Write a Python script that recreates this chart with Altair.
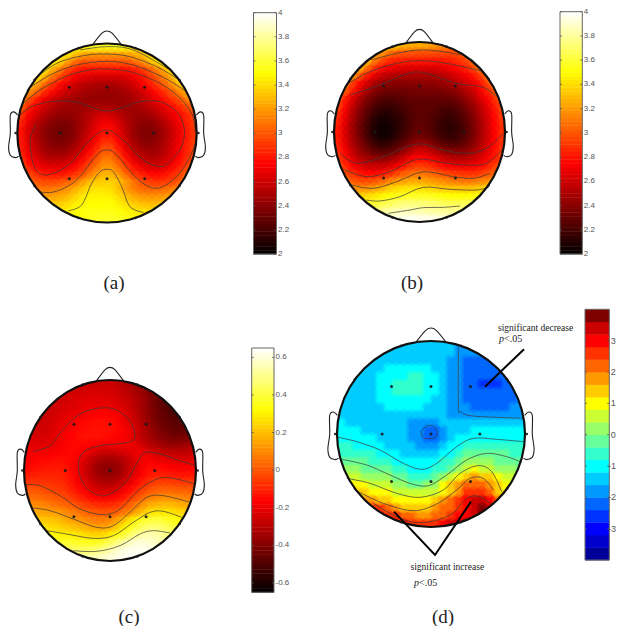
import altair as alt
import pandas as pd

# ---------- values (grid of 24 rows, centred in each head) ----------
A_ROWS = [
[345,350,355,355,355,355,355,350,345,340],
[355,345,335,325,320,320,320,320,320,320,325,330,340,350],
[350,340,325,310,300,300,300,300,300,300,300,305,315,325,340,350],
[345,330,315,300,288,282,280,280,280,280,280,280,283,290,300,312,325,340],
[345,330,312,298,285,275,268,265,262,262,262,262,265,270,278,288,300,312,325,340],
[340,325,308,292,280,270,262,257,253,252,250,250,252,256,262,270,280,290,302,315,328,340],
[320,305,290,278,268,260,255,250,248,246,245,245,246,249,254,260,268,278,288,300,312,325],
[320,300,285,272,263,256,250,247,245,244,244,244,244,244,246,250,255,262,270,278,288,298,310,322],
[305,285,272,262,255,250,247,246,246,248,250,250,249,247,246,247,250,255,260,268,276,285,295,305],
[292,275,263,254,248,244,243,244,248,252,258,262,260,255,250,246,245,248,253,260,268,276,285,295],
[285,268,257,248,242,238,238,241,248,255,264,270,270,262,254,247,242,242,246,253,262,272,282,292],
[280,264,252,243,237,234,235,240,248,258,268,278,278,268,256,246,240,238,241,248,258,268,280,290],
[280,264,252,243,237,235,236,241,250,260,272,282,282,272,258,247,240,238,241,248,258,268,280,290],
[282,267,255,246,240,238,240,246,255,266,278,292,292,278,264,252,245,241,244,250,260,270,282,292],
[285,270,260,250,246,245,247,253,262,274,288,301,301,288,272,258,250,247,248,253,262,272,283,293],
[290,276,266,258,254,254,256,262,272,285,298,310,310,298,282,268,258,254,254,258,266,276,287,298],
[298,284,274,268,266,266,268,274,284,296,308,318,318,308,294,280,270,264,263,266,272,282,292,303],
[310,296,288,282,280,280,282,288,296,308,320,328,328,320,306,292,284,278,276,278,284,292,302,312],
[306,300,296,296,297,302,308,318,328,334,336,336,332,322,310,300,293,290,290,294,300,308],
[314,310,309,310,312,316,324,332,340,342,342,340,332,320,312,306,304,304,306,310,314,318],
[322,321,322,324,328,335,342,346,347,347,346,340,332,325,320,318,318,320,322,325],
[332,333,335,338,344,348,350,350,350,350,346,340,335,332,330,330,331,333],
[342,343,346,350,352,354,354,354,354,352,348,345,342,341,340,342],
[350,352,355,357,358,358,357,355,352,350],
]
B_ROWS = [
[340,335,328,325,325,325,322,318,315,310],
[335,322,310,303,300,300,298,298,298,297,296,295,298,305],
[335,315,300,290,285,284,283,283,282,282,281,282,285,290,295,305],
[330,310,292,280,272,268,266,265,265,264,264,265,268,272,278,285,295,310],
[325,302,285,270,260,255,252,251,250,250,250,250,252,255,260,266,272,280,292,310],
[315,295,278,263,252,245,242,240,240,240,241,242,242,243,245,250,255,262,270,280,295,312],
[305,285,268,252,242,236,233,232,233,234,235,235,236,236,237,240,245,252,260,272,285,302],
[305,285,268,252,240,232,226,224,225,227,229,230,230,230,230,230,232,236,244,252,264,276,290,305],
[298,278,260,245,234,225,219,217,219,222,225,228,228,228,226,224,224,228,236,245,256,268,282,298],
[290,272,254,240,228,218,212,211,214,218,223,227,228,226,222,219,219,223,231,240,252,264,278,293],
[285,268,250,236,224,213,207,207,211,216,222,227,228,225,220,216,215,219,227,237,248,262,276,290],
[282,265,248,234,222,210,205,205,210,216,223,229,229,225,219,215,213,217,225,235,247,260,274,288],
[282,265,249,236,223,212,206,206,212,219,226,232,232,228,222,217,215,219,226,236,248,261,275,288],
[284,268,252,240,229,219,213,214,220,227,235,243,245,240,232,226,223,225,231,240,250,262,276,288],
[288,273,258,246,237,229,225,226,232,240,250,260,261,256,248,241,238,238,241,248,256,266,278,290],
[294,280,266,255,248,243,241,243,249,258,268,276,276,272,265,258,253,252,253,258,264,272,282,293],
[302,288,276,267,261,258,258,261,268,277,287,292,292,288,282,276,272,270,270,272,277,283,292,302],
[312,298,289,281,277,276,278,283,291,299,305,308,308,305,300,296,292,290,288,288,291,297,304,312],
[310,301,297,296,298,303,310,316,320,323,324,323,320,317,314,311,309,308,309,312,316,320],
[325,318,316,317,320,326,332,338,341,342,342,340,338,335,333,332,331,331,332,335,337,340],
[336,336,338,342,346,350,354,356,357,357,357,356,354,352,350,349,349,350,352,355],
[355,357,359,362,366,370,373,374,374,373,371,369,367,366,366,367,368,370],
[372,374,378,381,384,385,385,384,383,381,380,379,378,377,377,378],
[392,394,396,397,397,396,395,394,392,390],
]
C_ROWS = [
[-27,-27,-27,-26,-26,-26,-29,-31,-34,-37],
[-26,-25,-25,-24,-24,-24,-24,-25,-27,-30,-33,-36,-40,-44],
[-27,-25,-24,-23,-22,-22,-22,-22,-23,-25,-27,-30,-34,-39,-44,-47],
[-27,-25,-24,-23,-22,-21,-20,-20,-20,-21,-23,-26,-30,-34,-39,-44,-47,-50],
[-27,-26,-24,-23,-21,-20,-19,-17,-16,-16,-17,-19,-23,-28,-33,-38,-43,-46,-49,-50],
[-27,-26,-25,-23,-21,-19,-17,-15,-14,-14,-14,-15,-18,-22,-26,-32,-37,-42,-45,-47,-48,-47],
[-25,-25,-24,-22,-19,-17,-15,-14,-13,-13,-13,-14,-16,-19,-24,-30,-35,-39,-43,-45,-46,-45],
[-23,-24,-24,-23,-21,-18,-16,-14,-13,-13,-13,-14,-15,-17,-19,-24,-29,-33,-37,-40,-42,-43,-42,-40],
[-21,-22,-22,-22,-20,-17,-15,-15,-15,-16,-17,-18,-18,-18,-19,-21,-26,-30,-33,-36,-37,-37,-36,-34],
[-19,-19,-19,-18,-17,-16,-15,-16,-19,-22,-25,-26,-26,-24,-22,-20,-20,-23,-26,-28,-29,-29,-29,-27],
[-17,-16,-15,-15,-14,-14,-15,-18,-23,-28,-32,-33,-33,-31,-27,-22,-18,-18,-20,-21,-22,-23,-24,-23],
[-15,-14,-13,-12,-12,-12,-15,-19,-25,-31,-36,-38,-37,-34,-29,-23,-18,-15,-15,-16,-17,-18,-18,-18],
[-12,-11,-10,-10,-10,-11,-14,-19,-25,-31,-35,-37,-36,-33,-27,-21,-16,-12,-11,-11,-12,-13,-13,-13],
[-7,-7,-7,-7,-8,-9,-12,-17,-22,-27,-31,-32,-31,-28,-23,-17,-11,-7,-5,-5,-5,-6,-6,-6],
[0,0,-2,-3,-5,-6,-10,-14,-18,-22,-25,-26,-25,-21,-16,-11,-5,-1,1,2,2,1,1,0],
[5,4,3,1,0,-2,-5,-9,-12,-16,-18,-18,-17,-14,-9,-3,2,7,9,10,10,9,8,7],
[11,10,9,7,5,3,1,-2,-5,-7,-9,-9,-8,-5,0,6,11,16,18,19,19,17,16,14],
[17,16,15,14,13,11,8,6,3,1,0,-1,0,3,8,14,20,26,28,28,27,25,24,22],
[22,22,21,20,17,14,12,10,8,7,8,11,17,24,31,37,39,40,38,36,33,30],
[28,27,26,25,23,21,19,17,15,14,15,19,26,33,40,44,47,47,45,42,38,35],
[33,32,31,30,29,28,26,24,24,26,31,37,43,49,53,55,54,51,47,42],
[38,38,38,38,37,36,36,37,41,46,51,56,59,60,59,57,54,50],
[44,45,45,45,45,46,48,52,56,60,62,63,63,62,60,57],
[53,54,55,57,59,61,63,64,64,63],
]
D_ROWS = [
[-16,-16,-16,-16,-16,-16,-16,-16,-17,-18],
[-15,-15,-15,-15,-15,-15,-15,-15,-15,-16,-17,-18,-20,-20],
[-15,-15,-14,-13,-13,-13,-13,-13,-14,-15,-17,-18,-21,-21,-21,-21],
[-15,-15,-13,-12,-12,-11,-11,-12,-12,-13,-14,-17,-18,-21,-22,-22,-22,-22],
[-16,-15,-14,-12,-11,-11,-9,-8,-8,-9,-11,-13,-17,-18,-21,-23,-24,-24,-24,-23],
[-16,-16,-15,-13,-12,-10,-7,-5,-5,-6,-10,-12,-14,-17,-18,-21,-23,-25,-25,-25,-24,-22],
[-16,-16,-15,-13,-12,-10,-8,-7,-7,-8,-10,-12,-15,-17,-18,-21,-23,-24,-24,-24,-23,-21],
[-16,-16,-16,-15,-14,-12,-11,-10,-10,-10,-10,-11,-13,-16,-17,-19,-21,-22,-22,-22,-22,-22,-21,-20],
[-16,-16,-16,-16,-15,-14,-12,-12,-12,-12,-12,-13,-14,-16,-17,-19,-20,-21,-21,-21,-21,-21,-20,-20],
[-14,-15,-16,-16,-16,-16,-16,-16,-16,-16,-16,-16,-16,-16,-17,-18,-19,-19,-19,-19,-19,-19,-19,-19],
[-12,-13,-13,-14,-15,-15,-16,-16,-16,-17,-18,-19,-18,-16,-15,-15,-14,-14,-14,-14,-14,-14,-14,-14],
[-11,-11,-12,-13,-13,-14,-14,-15,-16,-17,-19,-22,-21,-18,-15,-13,-13,-12,-12,-12,-12,-12,-12,-12],
[-10,-11,-11,-12,-12,-13,-14,-15,-16,-17,-19,-22,-21,-18,-15,-12,-11,-10,-10,-10,-10,-10,-10,-10],
[-8,-8,-9,-9,-10,-11,-13,-14,-15,-16,-17,-18,-17,-15,-12,-10,-8,-7,-7,-7,-7,-8,-8,-8],
[-5,-5,-6,-7,-8,-9,-10,-12,-13,-14,-15,-15,-14,-12,-9,-7,-4,-3,-3,-3,-4,-4,-5,-6],
[-3,-3,-3,-4,-5,-6,-7,-9,-10,-12,-12,-12,-11,-8,-5,-2,0,1,1,0,-1,-2,-3,-4],
[1,0,0,-1,-2,-3,-4,-5,-7,-9,-9,-9,-8,-5,-2,2,6,8,7,5,3,1,0,-1],
[6,5,4,3,2,1,0,-1,-3,-5,-5,-5,-3,0,4,10,14,16,15,12,9,7,4,2],
[10,9,8,7,6,4,2,0,-1,-1,0,3,8,14,18,22,23,21,17,13,9,5],
[14,13,12,10,9,8,7,5,4,4,5,7,10,15,19,24,26,24,20,14,10,7],
[16,18,19,15,12,10,9,8,8,10,13,16,20,24,29,33,34,28,20,15],
[26,26,24,20,17,15,14,14,15,17,20,23,26,30,35,37,33,27],
[28,27,26,24,22,20,19,19,21,23,25,28,31,34,36,35],
[30,28,26,25,24,26,29,32,34,36],
]

# contour lines, traced on the picture (x, y in 3x crop pixels)
A_LINES = [
[(240,150),(320,140),(400,150),(505,207)],
[(100,240),(170,190),(250,167),(320,162),(390,170),(470,200),(535,238)],
[(80,270),(150,225),(230,195),(320,184),(400,195),(490,232),(555,272)],
[(68,312),(120,270),(200,228),(270,210),(320,207),(390,215),(470,245),(530,285),(575,340),(585,395)],
[(55,350),(90,322),(150,305),(220,305),(270,320),(320,333),(370,322),(420,305),(480,305),(530,335),(553,385),(545,440),(510,485),(480,500),(430,480),(375,425),(320,390),(265,425),(205,495),(140,525),(105,505),(92,450),(92,410),(110,370)],
[(115,575),(165,575),(230,540),(290,465),(320,450),(350,465),(410,535),(470,565),(530,530),(570,470),(585,430)],
[(205,632),(245,615),(275,550),(300,515),(320,508),(340,515),(365,560),(390,620),(430,637)],
]
B_LINES = [
[(185,180),(260,160),(330,150),(400,155),(450,165)],
[(115,250),(180,215),(260,190),(330,182),(410,190),(510,212)],
[(120,285),(210,255),(290,222),(340,218),(440,250),(520,262),(558,290)],
[(90,460),(140,490),(220,470),(290,440),(340,432),(400,450),(470,460),(530,445),(580,400)],
[(105,510),(170,530),(240,515),(300,485),(340,477),(400,488),(470,495),(530,490),(582,445)],
[(125,555),(190,565),(260,545),(320,520),(360,516),(430,530),(490,535),(540,520)],
[(170,600),(210,603),(270,590),(340,562),(420,568),(500,570),(538,560)],
[(235,640),(300,630),(340,623),(400,622),(450,618)],
]
C_LINES = [
[(100,352),(150,335),(190,285),(240,240),(300,222),(350,228),(390,262),(405,305),(385,325),(300,335),(250,355),(235,395),(250,450),(290,482),(330,480),(380,440),(415,380),(435,355),(480,360),(540,380),(587,395)],
[(75,452),(120,455),(180,485),(240,525),(310,542),(360,525),(420,465),(480,432),(530,435),(585,450)],
[(100,522),(150,530),(220,555),(290,580),(340,575),(395,530),(440,490),(490,485),(570,505)],
[(140,590),(200,600),(280,613),(340,605),(400,565),(450,535),(490,532),(545,550)],
[(220,650),(290,652),(360,635),(420,600),(460,590),(510,597)],
]
D_LINES = [
[(445,142),(445,320),(452,335),(480,347),(560,352),(640,355)],
[(333,395),(350,378),(370,378),(382,395),(378,410),(365,415),(345,415),(335,405),(333,395)],
[(85,412),(140,425),(210,450),(280,490),(335,508),(380,490),(440,440),(490,415),(560,418),(640,425)],
[(95,478),(170,495),(240,525),(300,550),(355,557),(410,525),(470,480),(530,460),(590,470),(635,487)],
[(110,535),(180,550),(260,580),(330,592),(400,570),(450,520),(505,497),(545,515),(575,575)],
[(135,570),(220,610),(310,632),(380,612),(440,570),(480,535),(520,535),(550,570)],
[(190,610),(270,655),(340,668),(420,645),(470,595),(510,590),(545,615)],
]

HOT_TICKS = [4, 3.8, 3.6, 3.4, 3.2, 3, 2.8, 2.6, 2.4, 2.2, 2]
HOT_LABELS = ["4", "3.8", "3.6", "3.4", "3.2", "3", "2.8", "2.6", "2.4", "2.2", "2"]
C_TICKS = [0.6, 0.4, 0.2, 0, -0.2, -0.4, -0.6]
C_LABELS = ["0.6", "0.4", "0.2", "0", "-0.2", "-0.4", "-0.6"]
D_TICKS = [3, 2, 1, 0, -1, -2, -3]
D_LABELS = ["3", "2", "1", "0", "-1", "-2", "-3"]
D_BANDS = ["#000099", "#0000cc", "#0000ff", "#0033ff", "#0066ff", "#0099ff", "#00ccff", "#00ffff",
           "#33ffcc", "#66ff99", "#99ff66", "#ccff33", "#ffff00", "#ffcc00", "#ff9900", "#ff6600",
           "#ff3300", "#ff0000", "#cc0000", "#800000"]

# head shape in head-radius units
UNIT_X = [1, .966, .866, .707, .5, .259, 0, -.259, -.5, -.707, -.866, -.966,
          -1, -.966, -.866, -.707, -.5, -.259, 0, .259, .5, .707, .866, .966]
UNIT_Y = [0, .259, .5, .707, .866, .966, 1, .966, .866, .707, .5, .259,
          0, -.259, -.5, -.707, -.866, -.966, -1, -.966, -.866, -.707, -.5, -.259]
NOSE_X = [-.156, -.056, 0, .056, .156]
NOSE_Y = [-.993, -1.115, -1.14, -1.115, -.993]
EAR_X = [.996, 1.04, 1.078, 1.078, 1.097, 1.078, 1.022, .985]
EAR_Y = [-.2, -.236, -.197, .007, .156, .249, .275, .26]
ELEC_X = [-.42, 0, .42, -.52, 0, .52, -.42, 0, .42]
ELEC_Y = [-.51, -.51, -.51, 0, 0, 0, .51, .51, .51]
RIM_X = [-.317, .317, -.81, .81, -1.02, 1.02, -.81, .81, -.317, .317]
RIM_Y = [-.95, -.95, -.59, -.59, 0, 0, .59, .59, .95, .95]

X = alt.Scale(domain=[8, 616], range=[0, 608], nice=False, zero=False)
Y = alt.Scale(domain=[626, 8], nice=False, zero=False)
HOT = ["#000000", "#ff0000", "#ffff00", "#ffffff"]


def ex(f="x"):
    return alt.X(f + ":Q", scale=X, axis=None, title=None)


def ey(f="y"):
    return alt.Y(f + ":Q", scale=Y, axis=None, title=None)


def color(scale):
    return alt.Color("v:Q", scale=scale, legend=None)


def heat(rows, cx, cy, rx, ry, scale, soft):
    out = []
    for j, row in enumerate(rows):
        first = (24 - len(row)) // 2
        for k, v in enumerate(row):
            i = first + k
            out.append({"x": cx + (i - 12) * rx / 12, "x2": cx + (i - 11) * rx / 12 + 0.5,
                        "y": cy + (j - 12) * ry / 12, "y2": cy + (j - 11) * ry / 12 + 0.5,
                        "cxp": cx + (i - 11.5) * rx / 12, "cyp": cy + (j - 11.5) * ry / 12, "v": v})
    df = pd.DataFrame(out)
    cell = rx / 12
    parts = [alt.Chart(df).mark_rect(strokeWidth=0).encode(
        x=ex(), x2="x2:Q", y=ey(), y2="y2:Q", color=color(scale))]
    # the same cells once more, as soft round patches, in both drawing orders
    for frame, (diam, alpha) in zip((df, df.iloc[::-1]), soft):
        parts.append(alt.Chart(frame).mark_circle(size=(diam * cell) ** 2, opacity=alpha, strokeWidth=0).encode(
            x=ex("cxp"), y=ey("cyp"), color=color(scale)))
    return parts


def ring(cx, cy, rx, ry, col, width):
    df = pd.DataFrame({"x": [cx + rx * u for u in UNIT_X], "y": [cy + ry * u for u in UNIT_Y],
                       "o": range(len(UNIT_X))})
    return alt.Chart(df).mark_line(interpolate="cardinal-closed", color=col, strokeWidth=width).encode(
        x=ex(), y=ey(), order="o:Q")


def path(xs, ys):
    df = pd.DataFrame({"x": xs, "y": ys, "o": range(len(xs))})
    return alt.Chart(df).mark_line(interpolate="cardinal", color="#222222", strokeWidth=1.1).encode(
        x=ex(), y=ey(), order="o:Q")


def contours(lines, ox, oy):
    out = []
    for n, line in enumerate(lines):
        for o, (a, b) in enumerate(line):
            out.append({"x": ox + a / 3, "y": oy + b / 3, "o": o, "n": n})
    return alt.Chart(pd.DataFrame(out)).mark_line(
        interpolate="cardinal", color="#3a3a3a", strokeWidth=0.9, opacity=0.8).encode(
        x=ex(), y=ey(), order="o:Q", detail="n:N")


def dots(xs, ys, cx, cy, rx, ry, size):
    df = pd.DataFrame({"x": [cx + rx * u for u in xs], "y": [cy + ry * u for u in ys]})
    return alt.Chart(df).mark_point(filled=True, color="#1a1a1a", size=size, opacity=0.9).encode(x=ex(), y=ey())


def head(rows, lines, ox, oy, cx, cy, rx, ry, scale, soft):
    return heat(rows, cx, cy, rx, ry, scale, soft) + [
        ring(cx, cy, rx + 9, ry + 9, "#ffffff", 17),
        contours(lines, ox, oy),
        ring(cx, cy, rx, ry, "#111111", 2.2),
        path([cx + rx * u for u in NOSE_X], [cy + ry * u for u in NOSE_Y]),
        path([cx + rx * u for u in EAR_X], [cy + ry * u for u in EAR_Y]),
        path([cx - rx * u for u in EAR_X], [cy + ry * u for u in EAR_Y]),
        dots(ELEC_X, ELEC_Y, cx, cy, rx, ry, 9),
        dots(RIM_X, RIM_Y, cx, cy, rx, ry, 6),
    ]


def colorbar(x0, x1, top, bot, vmin, vmax, values, vstep, scale, ticks, labels, fs, minus_dx=0.0):
    def to_y(v):
        return bot - (v - vmin) / (vmax - vmin) * (bot - top)
    df = pd.DataFrame([{"x": x0, "x2": x1, "y": to_y(v + vstep[1]), "y2": to_y(v - vstep[1]) + 0.4,
                        "v": v * vstep[0]} for v in values])
    bar = alt.Chart(df).mark_rect(strokeWidth=0).encode(x=ex(), x2="x2:Q", y=ey(), y2="y2:Q", color=color(scale))
    frame = alt.Chart(pd.DataFrame([{"x": x0, "x2": x1, "y": top, "y2": bot}])).mark_rect(
        fillOpacity=0, stroke="#666666", strokeWidth=1).encode(x=ex(), x2="x2:Q", y=ey(), y2="y2:Q")
    tk = pd.DataFrame([{"y": to_y(t), "a": x0, "b": x0 + 2, "c": x1 - 2, "d": x1} for t in ticks])
    left = alt.Chart(tk).mark_rule(color="#555555", strokeWidth=0.8).encode(x=ex("a"), x2="b:Q", y=ey())
    right = alt.Chart(tk).mark_rule(color="#555555", strokeWidth=0.8).encode(x=ex("c"), x2="d:Q", y=ey())
    tx = pd.DataFrame({"x": [x1 + 1.5 - (minus_dx if t < 0 else 0) for t in ticks],
                       "y": [to_y(t) for t in ticks], "t": labels})
    text = alt.Chart(tx).mark_text(align="left", baseline="middle", font="Liberation Sans", fontSize=fs,
                                   color="#555555").encode(x=ex(), y=ey(), text="t:N")
    return [bar, frame, left, right, text]


def label(t, x, y, size, style="normal", align="left"):
    df = pd.DataFrame({"x": [x], "y": [y], "t": [t]})
    return alt.Chart(df).mark_text(align=align, baseline="middle", font="Liberation Serif", fontSize=size,
                                   fontStyle=style, color="#222222").encode(x=ex(), y=ey(), text="t:N")


def pointer(xs, ys):
    df = pd.DataFrame({"x": [310 + a / 3 for a in xs], "y": [300 + b / 3 for b in ys], "o": range(len(xs))})
    return alt.Chart(df).mark_line(color="#000000", strokeWidth=2).encode(x=ex(), y=ey(), order="o:Q")


S_AB = alt.Scale(domain=[200, 275, 350, 400], range=HOT, interpolate="rgb", nice=False, zero=False)
S_C = alt.Scale(domain=[-65, -16.25, 32.5, 65], range=HOT, interpolate="rgb", nice=False, zero=False)
S_D = alt.Scale(type="quantize", domain=[-40, 40], range=D_BANDS, nice=False, zero=False)

HOT_LEVELS = [(i + 0.5) / 64 for i in range(64)]
AB_LEVELS = [2 + 2 * t for t in HOT_LEVELS]
C_LEVELS = [-0.65 + 1.3 * t for t in HOT_LEVELS]
D_LEVELS = [-3.8 + 0.4 * i for i in range(20)]

SOFT = [(1.9, 0.55), (1.5, 0.45)]
SOFT_D = [(1.5, 0.3), (1.5, 0.3)]

layers = []
layers += head(A_ROWS, A_LINES, 0, 0, 107, 133, 89.7, 89.5, S_AB, SOFT)
layers += head(B_ROWS, B_LINES, 310, 0, 419.5, 132, 85.5, 90, S_AB, SOFT)
layers += head(C_ROWS, C_LINES, 0, 334, 110, 470.5, 86, 90.5, S_C, SOFT)
layers += head(D_ROWS, D_LINES, 310, 300, 431, 434, 94, 93, S_D, SOFT_D)
layers += colorbar(253.5, 276.5, 12.7, 254, 2, 4, AB_LEVELS, (100, 1 / 64), S_AB, HOT_TICKS, HOT_LABELS, 8)
layers += colorbar(560, 582.3, 11.7, 254, 2, 4, AB_LEVELS, (100, 1 / 64), S_AB, HOT_TICKS, HOT_LABELS, 8)
layers += colorbar(251.7, 274, 348, 592.3, -0.65, 0.65, C_LEVELS, (100, 0.65 / 64), S_C, C_TICKS, C_LABELS, 8)
layers += colorbar(585, 609.3, 309.3, 560, -4, 4, D_LEVELS, (10, 0.2), S_D, D_TICKS, D_LABELS, 9, minus_dx=2.8)
layers += [
    label("(a)", 114, 283, 19, align="center"),
    label("(b)", 412, 283, 19, align="center"),
    label("(c)", 129, 617, 19, align="center"),
    label("(d)", 443, 617, 19, align="center"),
    label("significant decrease", 498, 328, 9.5),
    label("p", 499, 339, 10, style="italic"),
    label("<.05", 504, 339, 10),
    label("significant increase", 410.5, 567, 9.5),
    label("p", 414, 583, 10, style="italic"),
    label("<.05", 419, 583, 10),
    pointer([642, 525], [148, 260]),
    pointer([252, 375, 483], [635, 765, 605]),
]

chart = alt.layer(*layers).resolve_scale(color="independent").properties(
    width=608, height=618, padding=0, background="#ffffff",
    autosize=alt.AutoSizeParams(type="none", contains="padding")
).configure_view(stroke=None)

chart.save("out.html", embed_options={"renderer": "svg", "actions": False})
